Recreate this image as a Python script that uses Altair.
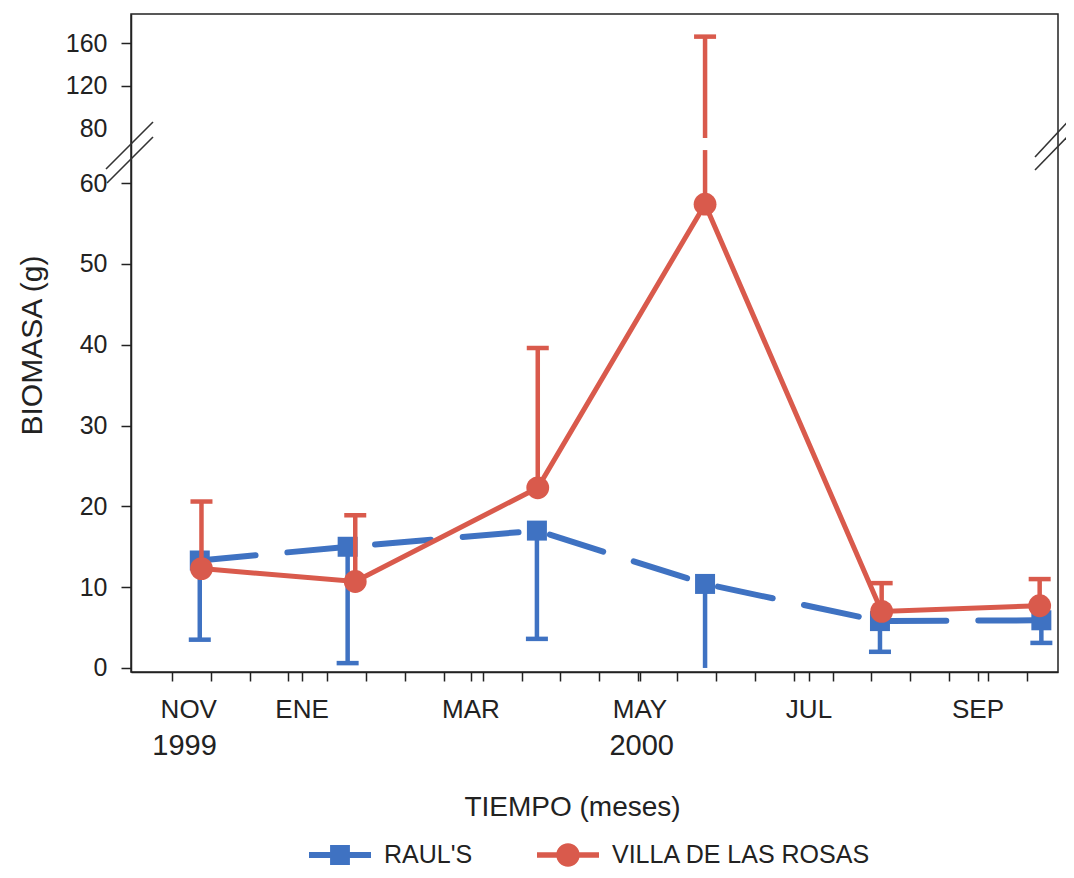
import altair as alt
import pandas as pd

SERIES = ["RAUL'S", "VILLA DE LAS ROSAS"]
COLORS = ["#3f72c2", "#d95a4c"]

raul_month = [0.79, 2.54, 4.78, 6.77, 8.84, 10.75]
raul_mean = [13.3, 15.0, 17.0, 10.4, 5.8, 5.9]
raul_low = [3.5, 0.6, 3.6, 0.0, 2.0, 3.1]

villa_month = [0.81, 2.63, 4.79, 6.77, 8.86, 10.73]
villa_mean = [12.3, 10.7, 22.3, 57.4, 7.0, 7.7]
villa_high = [20.6, 18.9, 39.6, 166.0, 10.5, 11.0]

month_labels = ["NOV", "ENE", "MAR", "MAY", "JUL", "SEP"]
month_label_pos = [0.66, 2, 4, 6, 8, 10]
year_labels = ["1999", "2000"]
year_label_pos = [0.61, 6.02]
month_tick_pos = [2, 4, 6, 8, 10]
y_ticks_lower = [0, 10, 20, 30, 40, 50, 60]
y_ticks_upper = [80, 120, 160]

# broken y axis: linear 0..64 below the break, compressed scale above
LOWER_TOP = 64.1
UPPER_BOTTOM = 70.6
UPPER_REF = 80
UPPER_AT = 66.83
UPPER_K = 0.1315


def t(v):
    return v if v <= LOWER_TOP else UPPER_AT + (v - UPPER_REF) * UPPER_K


W, H = 927, 658
FONT = "Liberation Sans"
INK = "#222222"

xscale = alt.Scale(domain=[-0.024, 10.947], nice=False, zero=False)
yscale = alt.Scale(domain=[-0.5, 80.94], nice=False, zero=False)

biweekly = [round(k * 14 / 30.44, 3) for k in range(1, 24)]
x_ticks = sorted(set(biweekly + month_tick_pos))
y_values = y_ticks_lower + [t(v) for v in y_ticks_upper]

raul = pd.DataFrame({"m": raul_month, "y": [t(v) for v in raul_mean],
                     "lo": [t(v) for v in raul_low], "raw_lo": raul_low})
villa = pd.DataFrame({"m": villa_month, "y": [t(v) for v in villa_mean]})

seg_rows = []
cap_rows = []
for m, mean, hi in zip(villa_month, villa_mean, villa_high):
    if hi > LOWER_TOP:
        seg_rows.append({"m": m, "y": mean, "b": LOWER_TOP})
        seg_rows.append({"m": m, "y": t(UPPER_BOTTOM), "b": t(hi)})
    else:
        seg_rows.append({"m": m, "y": mean, "b": hi})
    cap_rows.append({"m": m, "y": t(hi)})
villa_seg = pd.DataFrame(seg_rows)
villa_cap = pd.DataFrame(cap_rows)

x_axis = alt.Axis(values=x_ticks, labels=False, tickSize=9, tickWidth=1.5,
                  tickColor=INK, domainColor=INK, domainWidth=1.5, grid=False,
                  title="TIEMPO (meses)", titleFont=FONT, titleFontSize=28,
                  titleFontWeight="normal", titleColor=INK, titleX=441, titleY=143,
                  titleBaseline="alphabetic", titleAlign="center")
y_axis = alt.Axis(values=y_values, tickSize=10, tickWidth=1.5,
                  tickColor={"condition": {"test": "datum.value > 66 && datum.value < 67.5",
                                           "value": "transparent"}, "value": INK},
                  domainColor=INK, domainWidth=1.5, grid=False,
                  labelFont=FONT, labelFontSize=25, labelColor=INK, labelPadding=14,
                  labelExpr="datum.value > 65 ? format(80 + (datum.value - 66.83) / 0.1315, '.0f') : datum.label",
                  title="BIOMASA (g)", titleFont=FONT, titleFontSize=30,
                  titleFontWeight="normal", titleColor=INK, titleX=-99, titleY=331,
                  titleAngle=-90, titleAlign="center", titleBaseline="middle")

X = alt.X("m:Q", scale=xscale, axis=x_axis)
Y = alt.Y("y:Q", scale=yscale, axis=y_axis)

raul_line = alt.Chart(raul).mark_line(color=COLORS[0], strokeWidth=6, strokeDash=[56, 32],
                                      strokeCap="round").encode(x=X, y=Y)
raul_whisk = alt.Chart(raul).mark_rule(color=COLORS[0], strokeWidth=4.5).encode(
    x=X, y=Y, y2="lo:Q")
raul_cap = alt.Chart(raul).transform_filter("datum.raw_lo > 0").transform_calculate(
    yc="datum.lo").mark_tick(
    color=COLORS[0], thickness=4.5, size=22, orient="horizontal", opacity=1).encode(
    x=X, y=alt.Y("yc:Q", scale=yscale, axis=y_axis))
raul_pts = alt.Chart(raul).mark_square(size=400, color=COLORS[0], opacity=1).encode(
    x=X, y=Y)

villa_line = alt.Chart(villa).mark_line(color=COLORS[1], strokeWidth=5).encode(x=X, y=Y)
villa_whisk = alt.Chart(villa_seg).mark_rule(color=COLORS[1], strokeWidth=4.5).encode(
    x=X, y=Y, y2="b:Q")
villa_capl = alt.Chart(villa_cap).mark_tick(
    color=COLORS[1], thickness=4.5, size=22, orient="horizontal", opacity=1).encode(
    x=X, y=Y)
villa_pts = alt.Chart(villa).mark_circle(size=520, color=COLORS[1], opacity=1).encode(
    x=X, y=Y)

mlab = alt.Chart(pd.DataFrame({"m": month_label_pos, "lab": month_labels})).mark_text(
    font=FONT, fontSize=26, color=INK, baseline="alphabetic", align="center").encode(
    x=X, y=alt.value(704), text="lab:N")
ylab = alt.Chart(pd.DataFrame({"m": year_label_pos, "lab": year_labels})).mark_text(
    font=FONT, fontSize=29, color=INK, baseline="alphabetic", align="center").encode(
    x=X, y=alt.value(741), text="lab:N")

one = pd.DataFrame({"k": [0]})


def brk(x1, y1, x2, y2):
    return alt.Chart(one).mark_rule(color="#333333", strokeWidth=1.6).encode(
        x=alt.value(x1), y=alt.value(y1), x2=alt.value(x2), y2=alt.value(y2))


breaks = [brk(-25, 155, 22, 108), brk(-24, 169, 22, 123),
          brk(904, 143, 943, 101), brk(904, 156, 943, 116)]

sq_path = "M-1,-0.1H1V0.1H-1Z M-0.32,-0.32H0.32V0.32H-0.32Z"
circ_path = "M-1,-0.09H1V0.09H-1Z M-0.38,0A0.38,0.38,0,1,1,0.38,0A0.38,0.38,0,1,1,-0.38,0Z"
leg = alt.Legend(title=None, orient="none", legendX=178, legendY=810, direction="horizontal",
                 symbolSize=3844, labelFontSize=25, labelFont=FONT, labelColor=INK,
                 labelOffset=13, columnPadding=64, symbolStrokeWidth=0, padding=0,
                 labelBaseline="middle", labelLimit=500)
legend_layer = alt.Chart(pd.DataFrame({"serie": SERIES})).transform_filter("false").mark_point(
    filled=True, opacity=1).encode(
    color=alt.Color("serie:N", scale=alt.Scale(domain=SERIES, range=COLORS), legend=leg),
    shape=alt.Shape("serie:N", scale=alt.Scale(domain=SERIES, range=[sq_path, circ_path]), legend=leg),
)

chart = alt.layer(
    raul_line, raul_whisk, raul_cap, raul_pts,
    villa_line, villa_whisk, villa_capl, villa_pts,
    mlab, ylab, *breaks, legend_layer,
).properties(
    width=W, height=H,
    background="white",
    autosize=alt.AutoSizeParams(type="none"),
    padding={"left": 123, "top": 6, "right": 8, "bottom": 200},
).configure_view(stroke=INK, strokeWidth=1.5)

chart.save("out.html", embed_options={"renderer": "svg", "actions": False})
